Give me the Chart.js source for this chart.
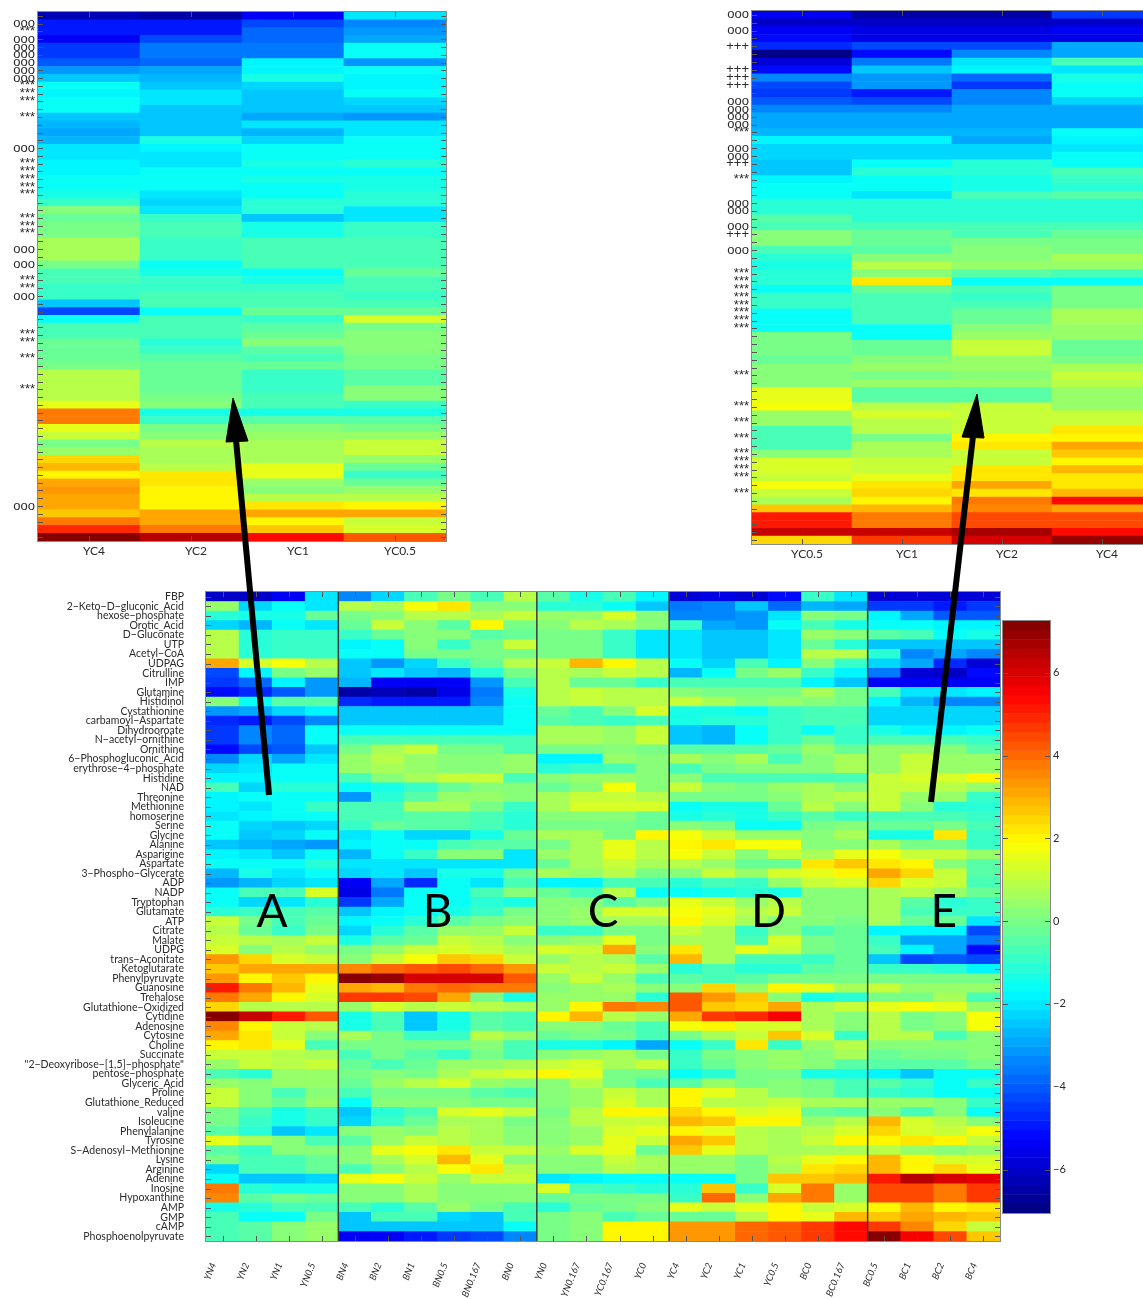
<!DOCTYPE html>
<html>
<head>
<meta charset="utf-8">
<title>Metabolite heat map</title>
<script src="https://cdn.jsdelivr.net/npm/chart.js@4"></script>
<style>
  html, body { margin: 0; padding: 0; background: #fff; overflow: hidden; width: 1143px; height: 1299px; }
  canvas { position: absolute; display: block; }
</style>
</head>
<body>
<canvas id="leftInset" width="447" height="556" style="left:0;top:10px"></canvas>
<canvas id="rightInset" width="438" height="560" style="left:715px;top:9px"></canvas>
<canvas id="mainMap" width="1001" height="709" style="left:0;top:590px"></canvas>
<canvas id="colorBar" width="141" height="600" style="left:1002px;top:619px"></canvas>
<canvas id="arrows" width="1143" height="1299" style="left:0;top:0;pointer-events:none"></canvas>
<script>
const rowNames = ['FBP','2−Keto−D−gluconic_Acid','hexose−phosphate','Orotic_Acid','D−Gluconate','UTP','Acetyl−CoA','UDPAG','Citrulline','IMP','Glutamine','Histidinol','Cystathionine','carbamoyl−Aspartate','Dihydrooroate','N−acetyl−ornithine','Ornithine','6−Phosphogluconic_Acid','erythrose−4−phosphate','Histidine','NAD','Threonine','Methionine','homoserine','Serine','Glycine','Alanine','Asparigine','Aspartate','3−Phospho−Glycerate','ADP','NADP','Tryptophan','Glutamate','ATP','Citrate','Malate','UDPG','trans−Aconitate','Ketoglutarate','Phenylpyruvate','Guanosine','Trehalose','Glutathione−Oxidized','Cytidine','Adenosine','Cytosine','Choline','Succinate','"2−Deoxyribose−[1,5]−phosphate"','pentose−phosphate','Glyceric_Acid','Proline','Glutathione_Reduced','valine','Isoleucine','Phenylalanine','Tyrosine','S−Adenosyl−Methionine','Lysine','Arginine','Adenine','Inosine','Hypoxanthine','AMP','GMP','cAMP','Phosphoenolpyruvate'];
const colNames = ['YN4','YN2','YN1','YN0.5','BN4','BN2','BN1','BN0.5','BN0.167','BN0','YN0','YN0.167','YC0.167','YC0','YC4','YC2','YC1','YC0.5','BC0','BC0.167','BC0.5','BC1','BC2','BC4'];
const leftCols = ['YC4','YC2','YC1','YC0.5'];
const rightCols = ['YC0.5','YC1','YC2','YC4'];
const barTicks = [6,4,2,0,-2,-4,-6];
const letters = ['A','B','C','D','E'];
const letterCols = [2,7,12,17,22.3];

const leftMarks = ['','ooo','***','ooo','ooo','ooo','ooo','ooo','ooo','***','***','***','','***','','','','ooo','','***','***','***','***','***','','','***','***','***','','ooo','','ooo','','***','***','ooo','','','','','***','***','','***','','','','***','','','','','','','','','','','','','','','ooo','','','',''];
const rightMarks = ['ooo','','ooo','','+++','','','+++','+++','+++','','ooo','ooo','ooo','ooo','***','','ooo','ooo','+++','','***','','','ooo','ooo','','ooo','+++','','ooo','','','***','***','***','***','***','***','***','***','','','','','','***','','','','***','','***','','***','','***','***','***','***','','***','','','','','',''];

const groupA = [
[-6.3,-6.3,-5.4,-2.2],[0.3,-2.3,-1.8,-2.2],[-1.2,-1.5,-1.5,-0.4],[-2.4,-2.8,-1.7,-2.1],[0.7,-1.3,-1.0,-1.0],[0.7,-1.2,-1.0,-1.0],[0.7,-1.2,-1.0,-1.0],[3.0,1.2,1.7,0.8],
[-4.4,-1.9,-0.1,0.3],[-4.6,-3.9,-2.0,-3.2],[-5.2,-4.9,-4.2,-3.2],[0.1,-1.8,-0.5,-0.6],[-3.2,-3.1,-2.3,-1.9],[-4.9,-5.0,-4.5,-3.5],[-4.6,-3.6,-4.0,-1.6],[-4.6,-3.6,-4.0,-1.6],
[-5.2,-4.5,-4.2,-2.5],[-3.4,-2.4,-3.0,-2.2],[-2.3,-2.2,-1.8,-1.8],[-1.9,-1.9,-1.6,-1.6],[-0.9,-2.4,-1.3,-1.2],[-2.0,-1.8,-1.6,-1.6],[-2.0,-2.2,-1.7,-1.0],[-2.2,-2.0,-1.8,-1.8],
[-1.8,-2.3,-2.6,-2.3],[-1.8,-2.6,-2.3,-1.8],[-2.6,-2.9,-3.1,-3.2],[-2.0,-2.1,-2.6,-1.7],[-1.8,-1.7,-1.8,-1.2],[-2.9,-1.5,-2.2,-1.8],[-3.2,-2.9,-2.3,-2.1],[-1.8,-0.9,-0.8,1.3],
[-1.6,-2.3,-2.2,-1.3],[-1.2,-1.0,-0.9,-0.5],[0.9,-0.2,-0.9,-0.4],[0.7,-0.3,-1.0,-0.2],[0.9,0.8,0.6,1.1],[1.3,0.2,0.8,0.3],[3.2,2.3,1.3,1.1],[2.6,3.1,3.1,3.1],
[3.2,1.9,2.5,1.9],[5.0,3.7,2.9,1.4],[3.7,3.0,1.9,1.3],[2.4,0.8,0.8,0.8],[7.0,6.2,5.1,4.2],[3.4,1.9,0.9,0.8],[3.0,2.2,0.9,0.1],[1.9,2.2,1.5,-0.8],
[0.9,0.9,0.8,0.6],[0.4,1.1,0.7,1.1],[-0.9,-1.3,0.4,0.4],[0.3,0.1,0.3,0.3],[0.9,0.1,-0.7,0.1],[0.9,0.0,-0.4,0.3],[-0.1,-0.9,-1.4,-1.1],[-0.1,-1.0,-1.5,-1.1],
[-0.6,-1.2,-2.5,-2.1],[1.5,0.6,0.0,-0.9],[-0.6,-1.0,0.0,0.1],[-0.2,-0.8,-0.7,-0.3],[-2.3,-0.7,-0.7,-0.4],[-1.8,-2.6,-2.6,-2.4],[3.6,-1.3,-1.4,-1.5],[3.5,-0.6,-0.1,-0.3],
[-1.5,-1.2,-0.7,-0.9],[-0.8,-1.7,-1.7,-0.2],[-0.9,-0.6,0.0,0.4],[-0.9,-0.6,0.0,0.4]];

const groupB = [
[-3.4,-2.3,-0.9,-0.1,-0.9,0.8],[0.8,0.6,1.6,2.1,0.2,0.2],[-0.2,0.2,0.7,0.8,0.6,0.9],[-0.3,0.9,0.2,-0.6,1.8,-0.2],[-1.0,-0.3,0.2,0.1,-0.6,-0.3],[-2.0,-1.8,0.0,-1.1,-0.1,1.1],[-1.7,-1.7,-0.1,-0.1,-0.1,-0.2],[-2.7,-3.2,-2.3,-1.0,-0.3,0.7],
[-2.7,-2.1,-2.7,-2.9,-1.3,-0.1],[-2.9,-5.5,-5.6,-5.6,-3.3,-0.9],[-6.6,-6.5,-6.7,-5.7,-3.7,-1.4],[-4.9,-5.0,-5.0,-5.0,-3.6,-1.6],[-2.7,-2.7,-2.7,-2.7,-2.5,-1.7],[-2.7,-2.7,-2.7,-2.7,-2.5,-1.7],[-1.7,-1.7,-1.7,-1.7,-1.7,-1.6],[-0.9,-0.9,-0.9,-0.9,-0.9,-0.9],
[-0.2,0.6,1.0,-0.2,-0.2,-0.8],[0.4,0.7,0.3,0.2,0.0,0.4],[0.4,0.6,0.3,0.2,0.0,0.4],[-0.9,0.1,0.5,0.9,1.1,-0.8],[-1.7,-1.5,-1.0,-0.3,0.0,0.2],[-3.3,-1.3,-0.6,0.3,0.3,0.1],[-0.9,-0.9,0.5,0.5,-0.2,-1.0],[-0.9,-0.9,-0.5,-0.5,-0.9,-1.2],
[-1.0,-0.3,-0.6,-0.5,-0.8,-1.3],[-2.2,-1.6,-2.4,-2.3,-1.5,-0.4],[-1.9,-1.8,-1.7,-0.7,-0.6,-0.5],[-2.8,-1.7,-1.0,0.1,0.0,-2.2],[-2.1,-2.1,-2.2,-2.2,-2.2,-2.1],[-2.4,-2.2,-2.6,-1.4,-1.4,-0.3],[-5.5,-3.0,-4.9,-1.7,-2.1,-0.8],[-5.7,-3.7,-1.7,-1.7,-0.7,0.1],
[-4.7,-3.0,-1.8,-1.7,-1.2,-1.5],[-2.6,-1.9,-1.6,-1.4,-1.0,-0.2],[-1.9,-1.7,-1.3,-0.6,-0.1,0.1],[-2.4,-1.3,-0.5,0.3,0.4,0.9],[-1.4,-0.6,-0.4,0.9,0.8,0.2],[-0.1,0.3,1.1,1.2,1.0,0.6],[0.1,0.9,1.6,2.6,2.4,1.1],[3.4,3.9,4.1,4.4,4.0,3.2],
[7.0,6.9,6.0,6.0,6.0,4.2],[3.0,2.9,3.7,3.9,3.7,3.7],[4.7,4.6,4.4,3.0,-0.2,-1.4],[0.3,1.2,0.7,0.9,0.7,0.5],[-1.5,-0.9,-2.5,-1.5,-0.5,-0.7],[-1.5,-0.9,-2.5,-1.5,-0.5,-0.7],[0.5,-0.2,-1.0,-1.0,0.7,0.3],[-0.2,-0.2,-0.2,-0.2,0.0,-0.9],
[-0.8,-0.1,-0.6,-1.0,-0.1,-0.7],[-0.3,-0.7,-0.4,0.4,0.3,0.5],[-0.2,0.2,-0.1,0.5,1.1,1.2],[-0.3,0.3,0.8,1.2,0.3,0.2],[-0.8,-0.1,-0.1,-0.2,-0.5,-0.8],[-1.8,0.0,0.0,0.0,-0.1,-0.2],[-2.7,-1.2,-0.8,1.2,1.5,0.9],[-2.3,-1.0,-0.4,0.6,0.6,-0.1],
[0.0,0.3,0.2,0.7,0.6,0.2],[-0.6,0.3,0.9,0.8,0.6,0.1],[0.2,1.4,1.6,2.2,1.0,1.0],[0.2,0.6,1.2,2.8,1.5,0.2],[-0.7,0.2,0.7,1.7,2.2,0.7],[1.4,1.6,0.9,0.3,0.9,1.0],[0.2,0.2,0.5,0.1,0.1,0.1],[0.2,0.2,0.5,0.1,0.1,0.1],
[-0.9,-1.3,-0.5,0.3,-0.2,-0.7],[-2.7,-0.9,-0.9,-2.4,-2.6,-0.9],[-2.6,-2.6,-2.6,-2.6,-2.6,-1.7],[-5.5,-5.4,-5.0,-4.6,-4.5,-3.6]];

const groupC = [
[-0.5,-1.5,-0.8,-1.9],[-1.3,-1.2,-1.8,-2.5],[0.4,0.3,1.2,0.1],[0.1,0.8,0.6,0.0],[-0.2,-0.2,-1.0,-2.2],[-0.2,-0.2,-1.0,-2.2],[-0.2,-0.2,-1.0,-2.2],[0.9,2.7,2.0,0.7],
[0.7,0.6,0.9,0.7],[0.7,-0.3,-0.4,-1.1],[0.7,1.0,0.8,0.8],[0.7,1.0,0.8,0.8],[-0.4,-0.7,0.2,1.2],[-0.6,-0.9,-1.0,-0.7],[0.5,0.5,0.4,0.9],[0.5,0.5,0.4,0.9],
[-0.2,-0.1,0.1,-0.2],[-2.0,-2.0,0.4,0.1],[-1.2,-1.1,-0.9,0.2],[0.2,0.3,0.4,0.2],[-0.4,0.2,1.6,0.0],[0.6,0.9,0.9,0.8],[0.6,1.2,1.2,1.3],[0.2,0.2,0.1,-0.3],
[-0.1,-0.1,-0.1,-0.3],[0.6,0.5,-0.2,1.9],[-0.2,0.6,1.4,0.8],[0.4,0.6,1.4,0.8],[-0.3,0.5,0.9,0.5],[0.6,0.4,0.8,-0.2],[-2.0,-2.0,-0.8,-0.9],[-0.3,-0.8,0.8,-1.7],
[0.0,0.2,-0.6,-0.1],[0.2,0.3,1.3,1.3],[0.1,0.3,0.6,0.5],[-1.0,-1.0,-0.2,-0.1],[0.2,0.3,1.5,-0.1],[1.3,1.0,3.1,0.1],[0.3,0.7,0.5,-0.6],[1.0,0.8,1.1,0.4],
[0.4,1.1,0.4,-0.7],[0.1,0.4,0.5,0.1],[0.3,0.4,0.4,-1.3],[0.3,1.8,3.7,3.4],[2.0,2.7,0.8,0.3],[0.0,0.1,-0.3,-0.8],[-0.3,-0.2,-0.2,-0.9],[-1.4,-1.5,-1.9,-3.1],
[0.1,0.3,0.6,-0.2],[1.0,1.3,0.5,1.1],[1.8,1.4,-0.1,-0.1],[0.2,0.7,-0.1,-0.9],[0.2,0.3,0.9,0.5],[0.2,0.3,1.2,0.6],[-0.1,0.7,2.0,2.0],[0.2,0.8,1.0,1.1],
[0.2,0.3,1.2,1.5],[0.2,0.3,1.5,1.1],[0.4,1.3,1.5,-0.4],[0.2,0.2,1.0,0.6],[0.1,0.1,0.8,0.5],[-2.2,-2.0,-1.6,-1.7],[1.3,-0.9,-1.0,-1.2],[-0.3,-0.2,-0.1,-0.1],
[-1.3,-0.3,-0.1,0.1],[-0.2,0.1,-0.9,-0.4],[-0.2,0.1,1.8,1.8],[-0.2,0.1,1.8,1.8]];

const groupD = [
[-5.9,-5.8,-5.9,-5.3,-1.0,-2.1],[-3.8,-3.4,-2.6,-3.9,-2.9,-3.0],[-3.4,-3.5,-3.2,-2.2,0.0,-0.2],[-1.0,-3.0,-3.2,-1.8,-0.8,-1.5],[-2.2,-2.5,-2.7,-2.2,0.3,0.1],[-2.2,-2.5,-2.7,-2.2,-0.3,-1.2],[-2.2,-2.5,-2.7,-2.2,0.8,0.7],[-1.8,-2.4,-0.8,-2.0,0.1,-1.1],
[-2.9,-1.6,-0.2,0.3,-1.0,-1.9],[-0.8,-0.7,-0.7,-0.8,-1.9,-2.7],[0.0,-0.2,-0.2,-0.1,0.6,-0.2],[1.1,0.5,0.2,0.3,0.1,-0.2],[-1.4,-1.4,-1.6,-1.0,-0.9,-0.9],[-1.4,-1.2,-1.3,-1.0,-0.9,-0.9],[-2.5,-2.8,-1.8,-1.1,-1.6,-1.0],[-2.5,-2.8,-1.8,-1.1,-0.3,-1.0],
[-0.6,-0.5,-0.6,-0.3,0.3,-0.3],[0.5,0.0,0.6,-0.8,0.2,0.5],[-0.7,-0.1,0.2,0.1,0.2,0.5],[0.1,-0.7,-0.9,-0.7,-0.9,-0.8],[0.9,0.0,-0.1,0.3,0.6,0.2],[-0.1,-0.1,-0.1,0.1,0.6,0.7],[-1.8,-1.4,-1.5,-0.4,0.7,0.1],[-1.5,-1.3,-1.4,-1.1,-0.5,-1.0],
[0.1,-0.2,-1.7,-1.7,-0.2,0.1],[1.7,0.9,0.4,0.4,0.2,0.6],[1.9,2.2,1.6,1.6,0.0,0.1],[1.6,1.1,0.2,0.9,0.6,1.5],[0.8,0.3,-0.4,-0.3,2.2,2.6],[0.1,1.1,0.4,1.3,1.4,1.9],[-1.3,-0.9,-1.0,0.3,1.0,1.3],[-1.7,-1.4,-1.2,-1.4,0.1,0.1],
[1.4,0.9,0.4,0.7,0.2,0.2],[1.7,1.4,0.7,1.0,0.2,0.2],[1.8,1.3,0.5,0.1,0.0,-0.2],[1.1,0.6,-1.0,0.0,-0.9,-0.4],[0.6,0.6,-0.9,1.3,-0.2,-0.4],[2.2,0.6,1.4,0.9,-0.2,-0.4],[2.8,0.6,-0.7,-0.8,-1.1,-0.4],[-1.2,-0.9,-1.3,-1.2,-0.5,-0.3],
[-0.5,-0.7,-0.6,-0.1,-0.1,-0.1],[0.0,2.4,0.3,1.8,1.5,0.5],[4.2,3.2,2.5,0.1,-1.4,-1.3],[4.2,2.6,2.3,3.0,0.6,0.9],[3.0,4.6,4.9,5.4,0.6,0.0],[1.6,2.0,1.2,1.3,0.6,0.0],[-0.1,0.6,0.9,2.5,1.3,-1.0],[-1.7,-1.1,2.1,-1.0,0.3,0.7],
[-1.0,-0.1,0.0,0.3,0.2,0.5],[-1.0,-0.4,0.0,0.3,0.2,-0.5],[-1.6,-1.3,-0.1,-0.1,-1.5,-1.4],[-0.5,0.3,-0.1,0.0,-0.1,-0.7],[1.9,1.4,0.7,0.2,-0.1,-0.7],[1.9,0.8,0.7,1.0,0.5,0.6],[2.4,1.9,1.3,1.4,-0.3,-0.6],[2.9,2.6,1.8,1.8,0.4,0.7],
[2.0,1.4,0.7,0.5,0.8,1.3],[3.1,2.6,0.7,0.5,0.9,1.8],[2.5,1.5,0.7,0.5,0.5,0.6],[0.4,0.3,-0.2,0.7,1.5,1.8],[0.3,0.3,-0.1,0.6,2.1,2.3],[-1.8,-1.8,-0.1,2.5,2.6,2.8],[-1.2,2.5,-1.0,1.3,3.6,0.3],[-1.0,4.0,0.2,3.0,3.6,0.3],
[1.5,1.0,1.4,2.0,1.0,1.2],[-0.3,-0.4,0.8,1.8,1.5,2.9],[3.3,3.3,3.9,4.1,4.6,5.2],[3.3,3.3,3.9,4.1,4.6,5.2]];

const groupE = [
[-6.0,-6.0,-6.0,-5.9],[-4.7,-4.7,-5.0,-4.7],[-1.9,-3.1,-4.1,-4.2],[-1.8,-1.8,-1.9,-2.0],[-0.6,-0.7,-1.6,-1.4],[-2.6,-2.5,-2.6,-2.6],[-1.2,-3.6,-3.0,-3.5],[-2.3,-3.0,-4.9,-6.0],
[-3.8,-6.0,-6.2,-5.3],[-5.4,-5.5,-5.6,-5.4],[-0.9,-2.2,-2.1,-1.9],[-2.0,-2.8,-3.5,-3.5],[-2.4,-2.4,-2.4,-2.4],[-2.4,-2.4,-2.4,-2.4],[-1.4,-1.9,-1.9,-1.7],[-0.8,-0.8,-0.8,-1.0],
[0.3,0.4,0.2,-0.5],[0.3,0.9,0.3,0.4],[0.3,0.9,0.3,0.4],[0.9,1.2,1.3,1.9],[1.0,1.0,0.8,0.4],[1.0,0.3,0.3,-1.0],[1.0,0.2,-1.2,-1.2],[-0.8,-0.8,-0.9,-1.0],
[-0.4,-0.4,-0.2,-0.7],[-1.4,-1.5,2.2,-1.0],[0.5,-0.2,-0.2,-1.0],[1.7,1.1,1.0,0.4],[2.1,1.9,0.2,-0.6],[3.0,2.4,1.0,-0.5],[2.3,1.2,1.1,-0.7],[0.6,0.7,0.4,-0.3],
[0.6,-0.6,-1.2,-1.0],[0.6,-0.7,-1.1,-1.0],[0.5,-0.3,-0.3,-2.2],[-1.9,-1.9,-1.9,-4.3],[-1.0,-3.0,-3.0,-3.7],[-0.7,-1.9,-3.1,-5.3],[-2.6,-4.4,-4.1,-4.4],[-1.1,-1.1,-1.3,-2.0],
[-0.1,-0.1,-0.1,-0.2],[0.9,0.3,0.3,0.3],[-0.1,-0.1,0.6,-0.8],[1.5,1.6,1.5,0.4],[0.7,-0.1,0.1,1.6],[0.7,-0.1,0.1,1.6],[0.7,0.8,-0.9,0.2],[0.0,0.2,0.0,0.0],
[-0.3,-0.2,-0.1,0.0],[-0.6,-0.6,-0.5,-0.1],[-1.9,-2.5,-1.8,-1.8],[-0.6,-1.0,-1.7,-1.1],[-1.0,-1.2,-1.6,-1.7],[0.4,0.4,0.2,-1.0],[0.0,-0.9,0.1,-1.7],[2.7,1.3,0.8,0.2],
[2.4,1.3,0.9,1.6],[1.9,2.1,1.8,1.1],[0.8,0.4,0.2,0.4],[2.8,1.9,1.2,1.2],[2.8,1.9,2.3,1.4],[5.0,6.3,5.9,5.8],[4.3,4.3,3.7,4.7],[4.3,4.3,3.7,4.7],
[1.9,2.9,2.0,2.1],[2.5,3.1,2.7,2.5],[4.7,3.5,2.3,0.9],[7.0,5.5,4.4,2.6]];

const leftValues = [
[-6.5,-6.7,-5.5,-2.1],[-5.0,-5.0,-4.3,-3.5],[-5.0,-5.0,-4.0,-3.3],[-5.4,-4.5,-4.0,-3.0],[-4.6,-3.7,-3.8,-1.6],[-4.6,-3.7,-3.8,-1.6],[-4.2,-4.0,-1.9,-3.3],[-3.2,-3.1,-1.9,-1.7],
[-2.6,-2.9,-1.5,-2.0],[-1.7,-2.7,-2.4,-2.0],[-2.0,-2.2,-2.5,-1.8],[-1.8,-2.2,-2.5,-2.3],[-1.8,-2.6,-2.6,-2.6],[-2.5,-2.6,-3.0,-3.3],[-2.9,-2.6,-2.2,-2.2],[-3.1,-2.5,-2.8,-2.2],
[-2.8,-1.5,-2.3,-1.8],[-2.1,-1.9,-1.7,-1.7],[-2.1,-2.2,-1.6,-1.7],[-1.9,-2.2,-1.4,-1.2],[-1.9,-1.8,-1.6,-1.7],[-1.6,-1.7,-1.4,-1.4],[-1.6,-1.8,-1.7,-1.4],[-1.4,-2.2,-1.8,-1.2],
[-1.1,-2.4,-1.3,-1.2],[0.0,-2.2,-1.3,-2.2],[-0.3,-1.0,-2.5,-2.2],[-0.2,-0.9,-1.4,-1.1],[-0.2,-0.9,-1.4,-1.1],[0.5,-1.1,-0.9,-0.9],[0.5,-1.1,-0.9,-0.9],[0.5,-1.1,-0.9,-0.9],
[-0.1,-1.8,-0.9,-0.9],[-0.7,-1.5,-1.8,-0.3],[-0.8,-1.1,-1.5,-0.8],[-1.0,-1.0,-1.0,-0.9],[-1.0,-0.9,-0.8,-1.1],[-2.7,-0.7,-0.8,-0.7],[-4.3,-1.7,-0.3,-0.4],[-1.6,-0.8,-1.1,1.2],
[-0.9,-0.7,-0.6,-0.1],[-0.9,-0.7,-0.4,0.0],[-0.4,-1.2,0.1,0.0],[-0.4,-1.1,-0.5,0.0],[-0.4,-0.6,-0.9,-0.1],[-0.1,-0.4,-0.4,-0.2],[0.7,-0.4,-1.0,-0.6],[0.7,-0.4,-1.0,-0.6],
[0.7,-0.4,-1.0,0.0],[0.7,-0.2,-0.9,0.0],[1.4,0.1,-0.7,-1.0],[3.6,-1.5,-1.5,-1.5],[3.6,-1.0,-0.5,-0.6],[1.4,-0.2,0.0,-0.1],[0.9,0.1,0.4,0.4],[-0.1,0.7,0.5,0.9],
[0.4,0.6,0.5,0.9],[2.3,0.5,0.5,0.4],[2.9,0.8,1.5,-0.3],[1.9,2.2,1.5,-1.0],[3.0,2.2,0.4,-0.3],[3.3,1.9,0.1,0.4],[3.1,1.8,0.8,0.7],[3.1,1.9,2.1,1.9],
[2.6,3.0,3.0,3.0],[3.6,3.0,1.8,0.9],[4.9,3.7,2.6,1.2],[7.0,6.4,5.3,4.2]];

const rightValues = [
[-5.5,-6.6,-6.6,-4.7],[-6.3,-6.3,-6.3,-6.3],[-5.6,-5.7,-5.7,-5.6],[-5.2,-5.7,-5.7,-5.7],[-4.9,-4.5,-4.5,-3.1],[-7.0,-5.3,-3.6,-3.1],[-5.9,-3.7,-2.1,-0.9],[-5.3,-2.6,-2.0,-2.2],
[-3.6,-3.3,-3.9,-1.4],[-4.4,-3.3,-4.6,-1.6],[-4.7,-5.0,-3.6,-1.7],[-4.2,-4.3,-3.6,-2.4],[-3.4,-3.5,-3.1,-3.0],[-3.1,-3.1,-3.1,-3.0],[-3.1,-3.1,-3.1,-3.0],[-2.9,-2.9,-2.8,-1.6],
[-2.0,-2.0,-3.1,-1.9],[-2.3,-2.3,-2.4,-2.2],[-2.3,-2.3,-2.4,-1.8],[-2.7,-1.8,-1.2,-1.6],[-2.7,-1.2,-1.2,-0.8],[-2.0,-1.8,-1.4,-1.1],[-1.8,-1.8,-1.4,-1.2],[-1.8,-2.2,-0.9,-0.5],
[-1.2,-1.2,-1.2,-1.2],[-1.2,-1.2,-1.2,-1.2],[-0.6,-1.2,-1.2,-1.2],[-0.9,-0.8,-0.8,-0.8],[0.0,-0.4,-0.8,-0.4],[0.0,-0.4,-0.2,-0.1],[-0.7,-0.5,0.0,-0.2],[-1.3,0.2,0.0,0.5],
[-1.4,0.7,0.4,0.3],[-1.3,0.2,-0.5,-0.9],[-1.3,2.2,-1.8,-1.8],[-1.8,-0.3,-0.8,-0.2],[-1.0,-0.8,-1.0,-0.2],[-1.0,-0.9,-0.8,-0.2],[-1.8,-0.8,-0.3,0.5],[-1.8,-0.8,-0.3,0.5],
[-1.7,-1.8,0.0,0.4],[-0.1,-1.8,0.3,0.3],[-0.1,-0.4,0.9,-0.4],[-0.1,-0.4,0.9,-0.4],[-0.4,0.1,0.4,-0.1],[0.2,0.3,0.3,0.6],[0.2,-0.1,0.2,1.1],[0.2,0.3,0.3,0.7],
[1.4,-0.5,-0.5,0.3],[1.4,-0.5,-0.5,0.3],[1.6,0.8,0.9,0.4],[0.3,1.2,1.0,0.9],[0.3,0.8,0.9,1.0],[-0.7,0.8,1.1,2.1],[-0.7,-0.2,1.8,2.0],[-0.7,0.6,2.2,3.0],
[0.0,0.5,0.9,2.6],[1.2,0.9,0.9,1.9],[1.2,0.9,2.2,2.8],[0.9,1.5,2.1,2.1],[1.7,2.1,3.0,2.1],[1.1,2.4,2.1,2.9],[0.6,1.9,3.8,5.2],[2.6,2.9,3.4,3.0],
[5.0,3.8,4.5,4.3],[5.0,3.8,4.5,4.3],[6.1,6.1,6.6,5.2],[2.4,4.7,6.0,6.9]];

// annotation arrows, in page pixels
const leftShaftX = [269,236];
const leftShaftY = [795,440];
const leftHeadX = [233,226,248,233];
const leftHeadY = [398,442,441,398];
const rightShaftX = [931,973];
const rightShaftY = [802,436];
const rightHeadX = [977,962,984,977];
const rightHeadY = [394,437,438,394];

const FONT = 'Lato, "Noto Sans", sans-serif';
const TEXT = '#2b2b2b';
const COLOR_MIN = -7.2, COLOR_MAX = 7.2, LEVELS = 64;

function jet(v){
  var t = (v - COLOR_MIN) / (COLOR_MAX - COLOR_MIN);
  t = (Math.min(LEVELS - 1, Math.max(0, Math.floor(t * LEVELS))) + 0.5) / LEVELS;
  function c(k){ return Math.round(255 * Math.max(0, Math.min(1, 1.5 - Math.abs(4 * t - k)))); }
  return 'rgb(' + c(3) + ',' + c(2) + ',' + c(1) + ')';
}

function toCells(rows, cols){
  var cells = [];
  rows.forEach(function(row, r){
    row.forEach(function(v, c){
      cells.push({x: cols[c], y: [r, r + 1], v: v});
    });
  });
  return cells;
}

// rotated and long labels ask for extra room, the plot boxes here are fixed
function noPadding(s){
  s.paddingLeft = 0;
  s.paddingRight = 0;
  s.paddingTop = 0;
  s.paddingBottom = 0;
}

// inner tick marks and frame, matlab style
const frame = {
  id: 'frame',
  afterDatasetsDraw: function(chart, args, opts){
    const ctx = chart.ctx, a = chart.chartArea, xs = chart.scales.x, ys = chart.scales.y;
    ctx.save();
    ctx.strokeStyle = '#555';
    ctx.lineWidth = 1;
    ctx.beginPath();
    ys.ticks.forEach(function(t){
      const py = Math.round(ys.getPixelForValue(t.value)) + 0.5;
      ctx.moveTo(a.left, py); ctx.lineTo(a.left + 5, py);
      ctx.moveTo(a.right - 5, py); ctx.lineTo(a.right, py);
    });
    if(opts.colTicks){
      xs.ticks.forEach(function(t, i){
        const px = Math.round(xs.getPixelForTick(i)) + 0.5;
        ctx.moveTo(px, a.top); ctx.lineTo(px, a.top + 5);
        ctx.moveTo(px, a.bottom - 5); ctx.lineTo(px, a.bottom);
      });
    }
    ctx.stroke();
    ctx.strokeStyle = '#8a8a8a';
    ctx.strokeRect(a.left - 0.5, a.top - 0.5, a.right - a.left + 1, a.bottom - a.top + 1);
    if(opts.dividers){
      ctx.strokeStyle = '#3c3c3c';
      ctx.lineWidth = 1.5;
      ctx.beginPath();
      opts.dividers.forEach(function(c){
        const px = a.left + c * (a.right - a.left) / xs.ticks.length;
        ctx.moveTo(px, a.top); ctx.lineTo(px, a.bottom);
      });
      ctx.stroke();
    }
    if(opts.letters){
      ctx.fillStyle = '#000';
      ctx.font = '46px ' + FONT;
      ctx.textAlign = 'center';
      ctx.textBaseline = 'middle';
      letters.forEach(function(l, i){
        ctx.fillText(l, a.left + letterCols[i] * (a.right - a.left) / xs.ticks.length, ys.getPixelForValue(33.5));
      });
    }
    ctx.restore();
  }
};

function heatChart(id, cols, rows, names, o){
  return new Chart(document.getElementById(id), {
    type: 'bar',
    plugins: [frame],
    data: {
      labels: cols,
      datasets: [{
        data: toCells(rows, cols),
        backgroundColor: function(c){ return jet(c.raw.v); },
        barPercentage: 1,
        categoryPercentage: 1,
        borderWidth: 0
      }]
    },
    options: {
      responsive: false,
      animation: false,
      events: [],
      layout: {padding: {top: 2, right: 1, left: 0, bottom: 0}},
      plugins: {legend: {display: false}, tooltip: {enabled: false}, frame: o.frame},
      scales: {
        x: {
          grid: {display: false, drawTicks: false},
          border: {display: false},
          afterFit: function(s){ s.height = o.bottom; noPadding(s); },
          ticks: o.xTicks
        },
        y: {
          min: 0,
          max: rows.length,
          reverse: true,
          grid: {display: false, drawTicks: false},
          border: {display: false},
          afterFit: function(s){ s.width = o.left; noPadding(s); },
          afterBuildTicks: function(s){
            s.ticks = names.map(function(n, i){ return {value: i + 0.5}; });
          },
          ticks: {
            autoSkip: false,
            includeBounds: false,
            padding: o.yPad,
            color: TEXT,
            font: o.yFont,
            callback: function(v, i){ return names[i]; }
          }
        }
      }
    }
  });
}

const insetX = {color: TEXT, font: {family: FONT, size: 12}, padding: 3, labelOffset: 5, maxRotation: 0, minRotation: 0};
const markFont = {family: '"Liberation Sans", sans-serif', size: 13};

heatChart('leftInset', leftCols, leftValues, leftMarks, {
  left: 38, bottom: 25, yPad: 3, yFont: markFont, xTicks: insetX, frame: {colTicks: true}
});
heatChart('rightInset', rightCols, rightValues, rightMarks, {
  left: 37, bottom: 25, yPad: 3, yFont: markFont, xTicks: insetX, frame: {colTicks: true}
});
heatChart('mainMap', colNames, groupA.map(function(r, i){
  return r.concat(groupB[i], groupC[i], groupD[i], groupE[i]);
}), rowNames, {
  left: 206, bottom: 58, yPad: 22, yFont: {family: FONT, size: 10.5},
  xTicks: {
    color: TEXT,
    font: {family: FONT, size: 9.5, style: 'italic'},
    padding: 20, labelOffset: -9, autoSkip: false, maxRotation: 68, minRotation: 68
  },
  frame: {colTicks: true, dividers: [4,10,14,20], letters: true}
});

// colour bar, one bar per colormap level
const barMin = -7.05, barMax = 7.25;
const barLevels = [];
for(var i = 0; i < LEVELS; i++){
  barLevels.push({
    x: '',
    y: [barMin + i * (barMax - barMin) / LEVELS, barMin + (i + 1) * (barMax - barMin) / LEVELS],
    v: COLOR_MIN + (i + 0.5) * (COLOR_MAX - COLOR_MIN) / LEVELS
  });
}
new Chart(document.getElementById('colorBar'), {
  type: 'bar',
  plugins: [frame],
  data: {
    labels: [''],
    datasets: [{
      data: barLevels,
      backgroundColor: function(c){ return jet(c.raw.v); },
      barPercentage: 1,
      categoryPercentage: 1,
      borderWidth: 0
    }]
  },
  options: {
    responsive: false,
    animation: false,
    events: [],
    layout: {padding: {top: 2, left: 1, right: 0, bottom: 6}},
    plugins: {legend: {display: false}, tooltip: {enabled: false}, frame: {}},
    scales: {
      x: {display: false, grid: {display: false}},
      y: {
        position: 'right',
        min: barMin,
        max: barMax,
        grid: {display: false, drawTicks: false},
        border: {display: false},
        afterFit: function(s){ s.width = 93; noPadding(s); },
        afterBuildTicks: function(s){
          s.ticks = barTicks.map(function(v){ return {value: v}; });
        },
        ticks: {
          includeBounds: false,
          padding: 3,
          color: TEXT,
          font: {family: FONT, size: 11},
          callback: function(v){ return String(v).replace('-', '−'); }
        }
      }
    }
  }
});

function pts(xs, ys){
  return xs.map(function(x, i){ return {x: x, y: ys[i]}; });
}
function shaft(xs, ys){
  return {data: pts(xs, ys), borderColor: '#000', borderWidth: 6, pointRadius: 0, fill: false};
}
function head(xs, ys){
  return {data: pts(xs, ys), borderColor: '#000', backgroundColor: '#000', borderWidth: 1, pointRadius: 0, fill: 'shape'};
}
new Chart(document.getElementById('arrows'), {
  type: 'line',
  data: {
    datasets: [
      shaft(leftShaftX, leftShaftY), head(leftHeadX, leftHeadY),
      shaft(rightShaftX, rightShaftY), head(rightHeadX, rightHeadY)
    ]
  },
  options: {
    responsive: false,
    animation: false,
    events: [],
    layout: {padding: 0},
    plugins: {legend: {display: false}, tooltip: {enabled: false}},
    scales: {
      x: {type: 'linear', display: false, min: 0, max: 1143},
      y: {type: 'linear', display: false, min: 0, max: 1299, reverse: true}
    }
  }
});
</script>
</body>
</html>
